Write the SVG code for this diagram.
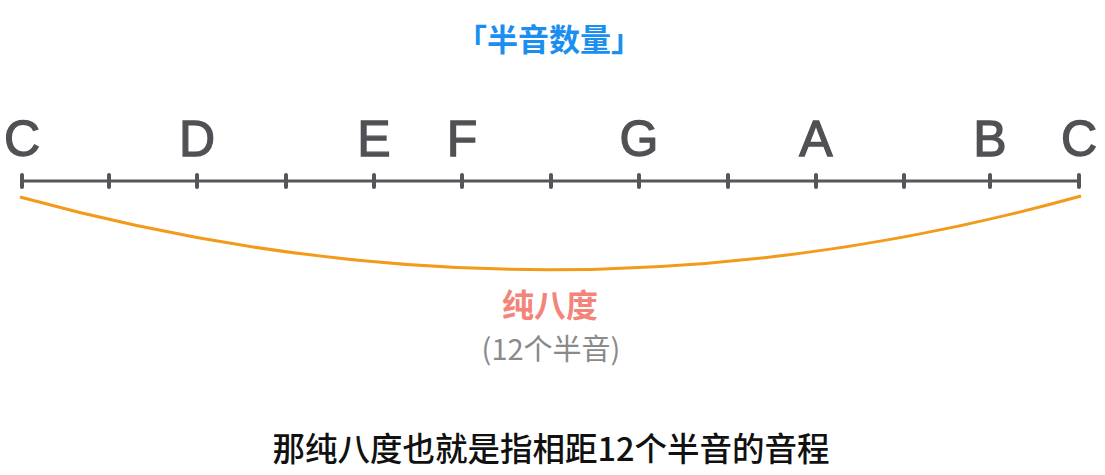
<svg xmlns="http://www.w3.org/2000/svg" width="1105" height="475" viewBox="0 0 1105 475">
<style>
.note{font-family:"Liberation Sans",Arial,sans-serif;font-size:50px;fill:#505055;stroke:#505055;stroke-width:1.3;text-anchor:middle}
.cjk{font-family:"Noto Sans CJK SC","Noto Sans",sans-serif;text-anchor:middle}
.tick{stroke:#55555a;stroke-width:4;stroke-linecap:round}
</style>
<rect width="1105" height="475" fill="#ffffff"/>
<text class="cjk" x="549" y="51" font-size="31" font-weight="bold" fill="#1a8ff0">「半音数量」</text>
<g id="notes">
<text class="note" x="22" y="156">C</text>
<text class="note" x="197" y="156">D</text>
<text class="note" x="374" y="156">E</text>
<text class="note" x="462" y="156">F</text>
<text class="note" x="639" y="156">G</text>
<text class="note" x="816" y="156">A</text>
<text class="note" x="990" y="156">B</text>
<text class="note" x="1079" y="156">C</text>
</g>
<g id="axis">
<line x1="22" y1="181" x2="1079" y2="181" stroke="#55555a" stroke-width="3"/>
<line class="tick" x1="22" y1="175" x2="22" y2="187"/>
<line class="tick" x1="109" y1="175" x2="109" y2="187"/>
<line class="tick" x1="197" y1="175" x2="197" y2="187"/>
<line class="tick" x1="286" y1="175" x2="286" y2="187"/>
<line class="tick" x1="374" y1="175" x2="374" y2="187"/>
<line class="tick" x1="462" y1="175" x2="462" y2="187"/>
<line class="tick" x1="551" y1="175" x2="551" y2="187"/>
<line class="tick" x1="639" y1="175" x2="639" y2="187"/>
<line class="tick" x1="728" y1="175" x2="728" y2="187"/>
<line class="tick" x1="816" y1="175" x2="816" y2="187"/>
<line class="tick" x1="904" y1="175" x2="904" y2="187"/>
<line class="tick" x1="990" y1="175" x2="990" y2="187"/>
<line class="tick" x1="1079" y1="175" x2="1079" y2="187"/>
</g>
<g id="connectors">
<path d="M20,197 Q551,343 1081,196" fill="none" stroke="#f39a1a" stroke-width="3"/>
</g>
<g id="label">
<text class="cjk" x="550" y="317" font-size="32" font-weight="bold" fill="#f4837a">纯八度</text>
<text class="cjk" x="551" y="360" font-size="29" fill="#8a8a8a">(12个半音)</text>
</g>
<text class="cjk" x="551" y="461" font-size="32.5" font-weight="500" fill="#111111">那纯八度也就是指相距12个半音的音程</text>
</svg>
